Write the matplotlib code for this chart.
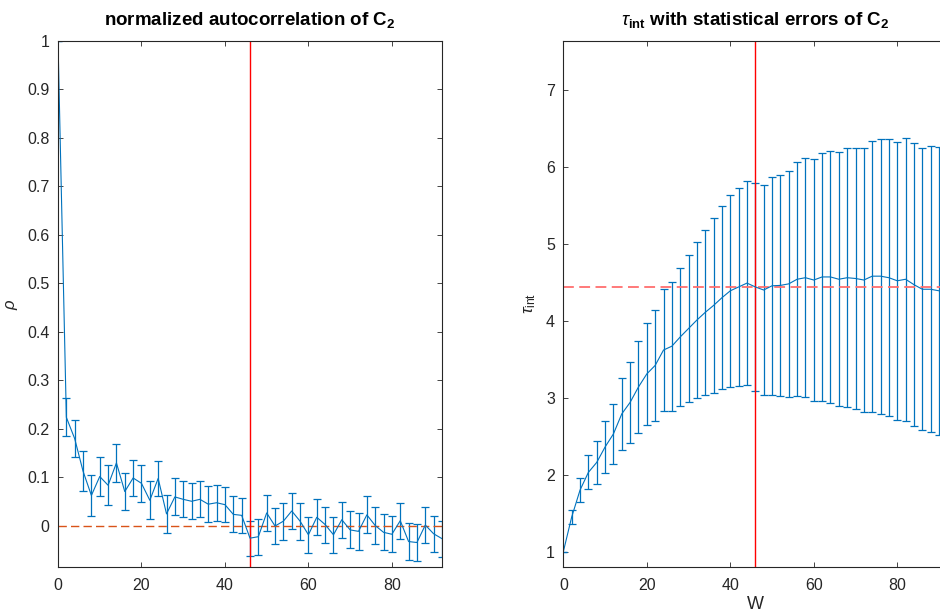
import numpy as np
import matplotlib.pyplot as plt

plt.rcParams['font.family'] = ['Liberation Sans', 'DejaVu Sans']
plt.rcParams['mathtext.fontset'] = 'custom'
plt.rcParams['mathtext.rm'] = 'Liberation Sans'
plt.rcParams['mathtext.it'] = 'Liberation Sans:italic'
plt.rcParams['mathtext.bf'] = 'Liberation Sans:bold'

# window sizes W = 0, 2, ..., 92
W = np.arange(0, 93, 2)
W_opt = 46

rho = [1.0, 0.224, 0.180, 0.113, 0.063, 0.102, 0.084, 0.130, 0.071, 0.099,
       0.088, 0.053, 0.098, 0.025, 0.060, 0.055, 0.051, 0.055, 0.045, 0.048,
       0.044, 0.024, 0.022, -0.025, -0.022, 0.027, 0.000, 0.010, 0.031, 0.010,
       -0.018, 0.018, 0.003, -0.018, 0.013, -0.008, -0.011, 0.023, 0.001, -0.013,
       -0.017, 0.011, -0.032, -0.034, 0.002, -0.016, -0.026]
rho_err = [0.0, 0.039, 0.038, 0.041, 0.042, 0.041, 0.041, 0.039, 0.039, 0.038,
           0.038, 0.039, 0.036, 0.039, 0.038, 0.037, 0.037, 0.037, 0.037, 0.037,
           0.036, 0.037, 0.036, 0.036, 0.037, 0.037, 0.038, 0.038, 0.037, 0.038,
           0.037, 0.037, 0.037, 0.037, 0.037, 0.038, 0.038, 0.038, 0.038, 0.037,
           0.037, 0.037, 0.038, 0.038, 0.037, 0.037, 0.037]

tau = [1.0, 1.45, 1.80, 2.03, 2.16, 2.36, 2.53, 2.79, 2.94, 3.14,
       3.31, 3.42, 3.62, 3.67, 3.79, 3.90, 4.01, 4.11, 4.20, 4.30,
       4.39, 4.44, 4.49, 4.44, 4.40, 4.455, 4.46, 4.48, 4.54, 4.56,
       4.53, 4.57, 4.57, 4.54, 4.56, 4.55, 4.53, 4.58, 4.58, 4.56,
       4.52, 4.54, 4.47, 4.41, 4.41, 4.39, 4.37]
tau_err = [0.0, 0.089, 0.16, 0.22, 0.276, 0.333, 0.39, 0.467, 0.525, 0.595,
           0.663, 0.72, 0.79, 0.837, 0.895, 0.96, 1.01, 1.075, 1.135, 1.19,
           1.245, 1.29, 1.33, 1.35, 1.365, 1.415, 1.44, 1.47, 1.52, 1.55,
           1.57, 1.61, 1.635, 1.65, 1.685, 1.70, 1.72, 1.76, 1.785, 1.80,
           1.81, 1.84, 1.835, 1.835, 1.86, 1.87, 1.89]

tau_opt = tau[list(W).index(W_opt)]

blue = '#0072BD'
axcol = '#262626'

fig = plt.figure(figsize=(9.4, 6.15), dpi=100)
ax1 = fig.add_axes([0.0617, 0.078, 0.4085, 0.8558])
ax2 = fig.add_axes([0.5993, 0.078, 0.4085, 0.8558])


def style(ax):
    ax.tick_params(direction='in', top=True, right=True, length=3.5, width=0.6,
                   colors=axcol, labelsize=11.5)
    ax.tick_params(axis='x', pad=8)
    ax.tick_params(axis='y', pad=6)
    for s in ax.spines.values():
        s.set_color(axcol)
        s.set_linewidth(0.8)


# left: normalized autocorrelation
ax1.errorbar(W, rho, yerr=rho_err, color=blue, lw=0.8, elinewidth=0.9,
             capsize=3.2, capthick=0.9)
ax1.axhline(0, color='#D95319', lw=1, dashes=(6, 3))
ax1.axvline(W_opt, color='red', lw=1)
ax1.set_xlim(0, 92)
ax1.set_ylim(-0.0845, 1)
ax1.set_xticks([0, 20, 40, 60, 80])
ax1.set_yticks(np.arange(0, 1.01, 0.1))
ax1.set_yticklabels(['0', '0.1', '0.2', '0.3', '0.4', '0.5', '0.6', '0.7', '0.8', '0.9', '1'])
ax1.set_ylabel(r'$\rho$', fontsize=12, color=axcol, labelpad=5)
ax1.set_title(r'normalized autocorrelation of $\mathbf{C_2}$', fontsize=13.5,
              fontweight='bold', pad=11)
style(ax1)

# right: integrated autocorrelation time
ax2.errorbar(W, tau, yerr=tau_err, color=blue, lw=0.8, elinewidth=0.9,
             capsize=3.2, capthick=0.9)
ax2.axhline(tau_opt, color='#FF6E6E', lw=1.3, dashes=(6, 3))
ax2.axvline(W_opt, color='red', lw=1)
ax2.set_xlim(0, 92)
ax2.set_ylim(0.8, 7.64)
ax2.set_xticks([0, 20, 40, 60, 80])
ax2.set_yticks([1, 2, 3, 4, 5, 6, 7])
ax2.set_xlabel('W', fontsize=13, color=axcol, labelpad=2)
ax2.set_ylabel(r'$\tau_{\mathrm{int}}$', fontsize=12.5, color=axcol, labelpad=6)
ax2.set_title(r'$\tau_{\mathbf{int}}$ with statistical errors of $\mathbf{C_2}$',
              fontsize=13.5, fontweight='bold', pad=11)
style(ax2)

fig.savefig('out.png', dpi=100)
